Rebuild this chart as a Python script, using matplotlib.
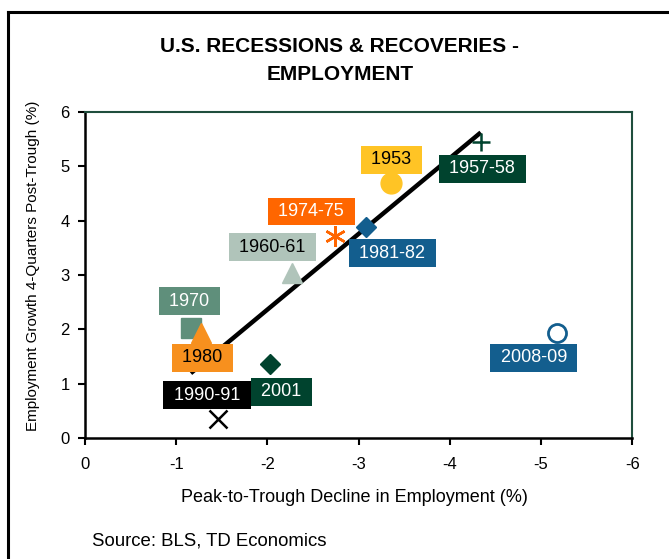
import numpy as np
import matplotlib
matplotlib.use("Agg")
from matplotlib import pyplot as plt
from matplotlib.lines import Line2D

plt.rcParams['font.family'] = ['Liberation Sans', 'DejaVu Sans']
plt.rcParams['axes.unicode_minus'] = False

# data
recessions = ['1953', '1957-58', '1960-61', '1970', '1974-75',
              '1980', '1981-82', '1990-91', '2001', '2008-09']
decline = [-3.36, -4.34, -2.27, -1.16, -2.74, -1.27, -3.08, -1.46, -2.03, -5.18]
growth = [4.69, 5.44, 3.03, 2.03, 3.71, 1.94, 3.89, 0.35, 1.36, 1.94]

# styles: marker, marker colour, box colour, text colour, label offset (pt)
styles = {
    '1953':    ('o', '#FFC425', '#FFC425', 'black', (0, 17)),
    '1957-58': ('+', '#00432E', '#00432E', 'white', (1, -19)),
    '1960-61': ('^', '#B0C4BA', '#B0C4BA', 'black', (-14, 19)),
    '1970':    ('s', '#5F8F7B', '#5F8F7B', 'white', (-1, 19)),
    '1974-75': ('*', '#FF6600', '#FF6600', 'white', (-17, 18)),
    '1980':    ('^', '#F7901E', '#F7901E', 'black', (1, -18)),
    '1981-82': ('D', '#135E8E', '#135E8E', 'white', (19, -19)),
    '1990-91': ('x', 'black', 'black', 'white', (-8, 17)),
    '2001':    ('D', '#00432E', '#00432E', 'white', (8, -20)),
    '2008-09': ('o', '#135E8E', '#135E8E', 'white', (-17, -18)),
}

fig = plt.figure(figsize=(6.69, 5.59), dpi=100)
ax = fig.add_axes([0.127, 0.2165, 0.818, 0.583])

# outer frame (right/bottom edges fall off the picture)
fig.add_artist(Line2D([8 / 669, 8 / 669], [0, 1 - 12 / 559], color='black', lw=2.2))
fig.add_artist(Line2D([8 / 669, 1], [1 - 12 / 559, 1 - 12 / 559], color='black', lw=2.2))

# trend line fitted without 2008-09
fx = np.array([d for r, d in zip(recessions, decline) if r != '2008-09'])
fy = np.array([g for r, g in zip(recessions, growth) if r != '2008-09'])
k, b = np.polyfit(fx, fy, 1)
lx = np.array([fx.max(), fx.min()])
ax.plot(lx, k * lx + b, color='black', lw=3.2, zorder=2, solid_capstyle='butt')

for r, x, y in zip(recessions, decline, growth):
    m, mc, bc, tc, off = styles[r]
    if r == '2008-09':
        ax.plot(x, y, marker=m, ms=13, mfc='white', mec=mc, mew=2, zorder=3)
    elif m in ('+', 'x'):
        ax.plot(x, y, marker=m, ms=13, color=mc, mew=1.8, zorder=3)
    elif m == '*':
        ax.plot(x, y, marker=(6, 2, 0), ms=15, color=mc, mew=1.8, zorder=3)
    elif m == 'D':
        ax.plot(x, y, marker=m, ms=10.5, color=mc, zorder=3)
    elif m == 's':
        ax.plot(x, y, marker=m, ms=14.5, color=mc, zorder=3)
    else:
        ax.plot(x, y, marker=m, ms=15, color=mc, zorder=3)
    ax.annotate(' ' + r + ' ', (x, y), xytext=off, textcoords='offset points',
                ha='center', va='center', fontsize=13, color=tc, zorder=4,
                bbox=dict(boxstyle='square,pad=0.3', fc=bc, ec='none'),
                )

ax.set_xlim(0, -6)
ax.set_ylim(0, 6)
ax.set_xticks(range(0, -7, -1))
ax.set_yticks(range(0, 7))
ax.tick_params(labelsize=12, length=5, width=1.5, color='black')
ax.tick_params(axis='x', pad=9)
ax.tick_params(axis='y', pad=6)
for s in ('top', 'right'):
    ax.spines[s].set_color('#1F4E3D')
    ax.spines[s].set_linewidth(1.5)
for s in ('left', 'bottom'):
    ax.spines[s].set_color('black')
    ax.spines[s].set_linewidth(1.8)

ax.set_xlabel('Peak-to-Trough Decline in Employment (%)', fontsize=13)
ax.set_ylabel('Employment Growth 4-Quarters Post-Trough (%)', fontsize=11)
ax.xaxis.set_label_coords(0.492, -0.156)
ax.yaxis.set_label_coords(-0.082, 0.528)
fig.text(0.508, 1 - 61 / 559, 'U.S. RECESSIONS & RECOVERIES -\nEMPLOYMENT', ha='center',
         va='center', fontsize=15, fontweight='bold', linespacing=1.6)
fig.text(92 / 669, 1 - 541 / 559, 'Source: BLS, TD Economics', fontsize=13.4, va='center')

fig.savefig('out.png', dpi=100)
